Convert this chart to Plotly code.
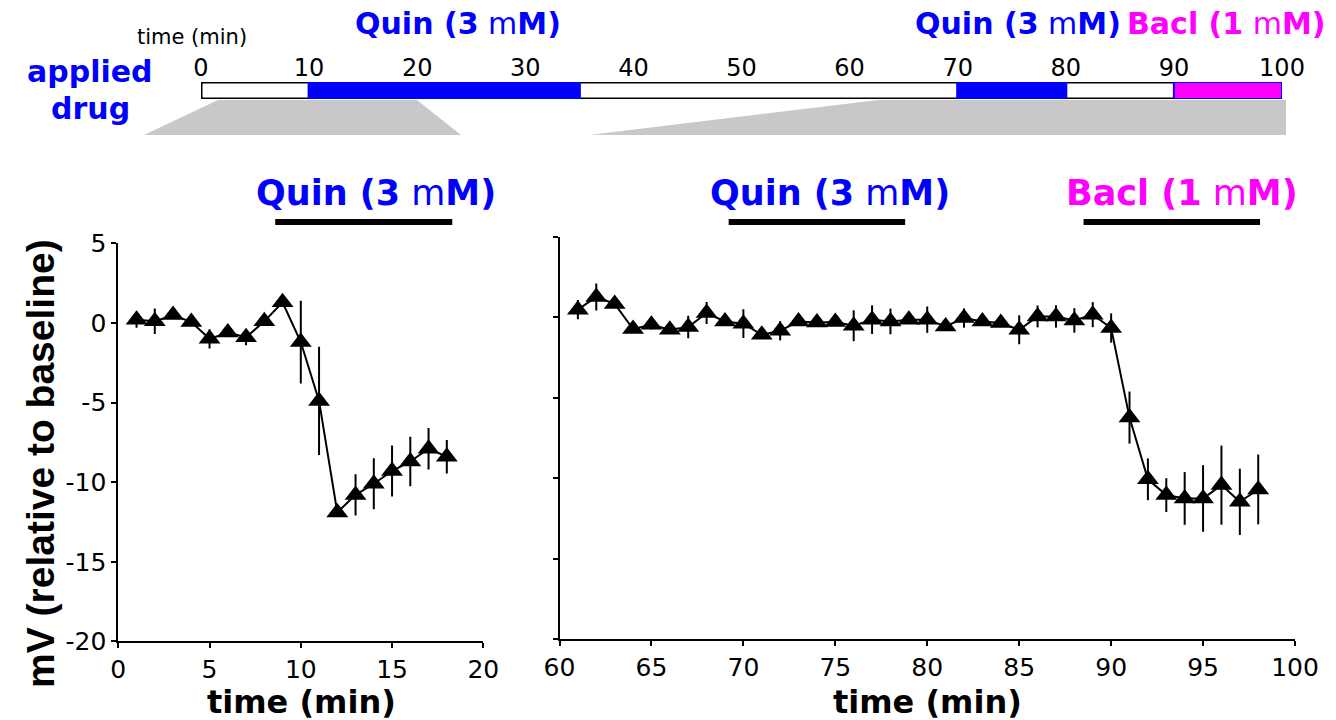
import plotly.graph_objects as go

# ---- recorded membrane potential (mV relative to baseline), mean ± s.e.m. ----
early_time = list(range(1, 19))
early_mv = [0.2, 0.1, 0.5, 0.05, -1.0, -0.6, -0.9, 0.1, 1.3, -1.2, -4.9, -11.9,
            -10.8, -10.1, -9.3, -8.7, -7.9, -8.4]
early_err = [0.5, 0.8, 0.25, 0.25, 0.6, 0.25, 0.5, 0.25, 0.25, 2.6, 3.4, 0.25,
             1.3, 1.6, 1.6, 1.55, 1.3, 1.05]

late_time = list(range(61, 99))
late_mv = [0.48, 1.27, 0.84, -0.72, -0.46, -0.77, -0.6, 0.27, -0.25, -0.39,
           -1.08, -0.83, -0.25, -0.31, -0.29, -0.52, -0.14, -0.25, -0.14, -0.14,
           -0.56, -0.04, -0.25, -0.35, -0.77, 0.06, 0.06, -0.19, 0.17, -0.66,
           -6.23, -10.07, -11.05, -11.26, -11.26, -10.43, -11.47, -10.7]
late_err = [0.6, 0.84, 0.25, 0.25, 0.3, 0.25, 0.7, 0.68, 0.25, 0.89,
            0.25, 0.6, 0.25, 0.25, 0.25, 0.96, 0.89, 0.8, 0.25, 0.82,
            0.25, 0.6, 0.25, 0.25, 0.9, 0.68, 0.7, 0.76, 0.78, 0.91,
            1.62, 1.3, 1.05, 1.64, 2.07, 2.46, 2.06, 2.17]

# ---- drug application schedule (min) ----
drug_start = [10, 70, 90]
drug_end = [35, 80, 100]
drug_color = ["#0000ff", "#0000ff", "#ff00ff"]
session_start, session_end = 0, 100

# application bars drawn above each recording panel (min)
early_bar = [(8.6, 18.3)]
late_bars = [(69.2, 78.8), (88.5, 98.1)]

timeline_ticks = list(range(0, 101, 10))
y_ticks = [-20, -15, -10, -5, 0, 5]
early_x_ticks = list(range(0, 21, 5))
late_x_ticks = list(range(60, 101, 5))

BLUE = "#0000ff"
MAGENTA = "#ff00ff"
BLACK = "black"
FONT = "DejaVu Sans"

W, H = 1336, 720


def px(x):
    return x / W


def py(y):
    return 1 - y / H


fig = go.Figure()

# ---- timeline of drug application ----
fig.add_trace(go.Bar(
    x=[session_end - session_start], base=[session_start], y=[0], width=[1],
    orientation="h", xaxis="x3", yaxis="y3",
    marker=dict(color="white", line=dict(color=BLACK, width=3)),
    hoverinfo="skip"))
for s, e, c in zip(drug_start, drug_end, drug_color):
    fig.add_trace(go.Bar(
        x=[e - s], base=[s], y=[0], width=[1], orientation="h",
        xaxis="x3", yaxis="y3",
        marker=dict(color=c, line=dict(color=BLUE, width=3 if c == BLUE else 2)),
        hoverinfo="skip"))

trace_style = dict(
    mode="lines+markers",
    line=dict(color=BLACK, width=2),
    marker=dict(symbol="triangle-up", size=19, color=BLACK),
)

fig.add_trace(go.Scatter(
    x=early_time, y=early_mv, xaxis="x", yaxis="y",
    error_y=dict(type="data", array=early_err, color=BLACK, thickness=2, width=0),
    **trace_style))
fig.add_trace(go.Scatter(
    x=late_time, y=late_mv, xaxis="x2", yaxis="y2",
    error_y=dict(type="data", array=late_err, color=BLACK, thickness=2, width=0),
    **trace_style))

axis_common = dict(
    showline=True, linecolor=BLACK, linewidth=2, showgrid=False, zeroline=False,
    ticks="outside", ticklen=5, tickwidth=2, tickcolor=BLACK, automargin=False,
    tickfont=dict(family=FONT, size=25, color=BLACK), fixedrange=True,
)

fig.update_layout(
    width=W, height=H,
    margin=dict(l=0, r=0, t=0, b=0, autoexpand=False),
    paper_bgcolor="white", plot_bgcolor="white",
    showlegend=False, barmode="overlay",
    font=dict(family=FONT, color=BLACK),
    xaxis=dict(domain=[px(118.3), px(483.3)], range=[0, 20], anchor="y",
               tickvals=early_x_ticks, ticktext=[str(v) for v in early_x_ticks],
               **axis_common),
    yaxis=dict(domain=[py(641.4), py(243.3)], range=[-20, 5], anchor="x",
               tickvals=y_ticks, ticktext=[str(v) for v in y_ticks],
               **axis_common),
    xaxis2=dict(domain=[px(559.5), px(1295)], range=[60, 100], anchor="y2",
                tickvals=late_x_ticks, ticktext=[str(v) for v in late_x_ticks],
                **axis_common),
    yaxis2=dict(domain=[py(639), py(237)], range=[-20, 5], anchor="x2",
                tickvals=y_ticks, showticklabels=False, **axis_common),
    xaxis3=dict(domain=[px(201), px(1282)], range=[session_start, session_end],
                anchor="y3", side="top", tickvals=timeline_ticks,
                ticktext=[str(v) for v in timeline_ticks], ticks="",
                showline=False, showgrid=False, zeroline=False, automargin=False,
                tickfont=dict(family=FONT, size=24, color=BLACK), fixedrange=True),
    yaxis3=dict(domain=[py(99), py(82)], range=[-0.5, 0.5], anchor="x3",
                visible=False, fixedrange=True, automargin=False),
)

# ---- grey wedges linking the timeline to the two recording panels ----
wedges = [
    [(218, 100), (417, 100), (461, 135), (144, 135)],
    [(878, 100), (1286, 100), (1286, 135), (589, 135)],
]
for pts in wedges:
    path = "M " + " L ".join(f"{px(x):.5f},{py(y):.5f}" for x, y in pts) + " Z"
    fig.add_shape(type="path", path=path, xref="paper", yref="paper",
                  fillcolor="#c8c8c8", line=dict(width=0), layer="below")

# ---- application bars above the recording panels ----
bar_y = py(222)
for s, e in early_bar:
    fig.add_shape(type="line", xref="x", yref="paper", x0=s, x1=e,
                  y0=bar_y, y1=bar_y, line=dict(color=BLACK, width=6))
for s, e in late_bars:
    fig.add_shape(type="line", xref="x2", yref="paper", x0=s, x1=e,
                  y0=bar_y, y1=bar_y, line=dict(color=BLACK, width=6))

quin = "<b>Quin (3</b> m<b>M)</b>"
bacl = "<b>Bacl (1</b> m<b>M)</b>"


def label(text, x, y, size, color, yanchor="middle", family=FONT, angle=0):
    fig.add_annotation(text=text, x=px(x), y=py(y), xref="paper", yref="paper",
                       showarrow=False, xanchor="center", yanchor=yanchor,
                       textangle=angle,
                       font=dict(family=family, size=size, color=color))


# axis titles
label("<b>time (min)</b>", 301, 702, 32, BLACK)
label("<b>time (min)</b>", 927, 702, 32, BLACK)
label("<b>mV (relative to baseline)</b>", 40, 464, 39, BLACK,
      family="Liberation Sans", angle=-90)

# timeline labels
label("time (min)", 192, 37, 21, BLACK)
label("<b>applied</b>", 90, 91, 30, BLUE, yanchor="bottom")
label("<b>drug</b>", 90, 89, 30, BLUE, yanchor="top")
label(quin, 458, 23, 30, BLUE)
label(quin, 1018, 23, 30, BLUE)
label(bacl, 1226, 23, 30, MAGENTA)

# panel labels
label(quin, 376, 193, 35, BLUE)
label(quin, 830, 193, 35, BLUE)
label(bacl, 1182, 193, 35, MAGENTA)

fig.write_html("out.html")
